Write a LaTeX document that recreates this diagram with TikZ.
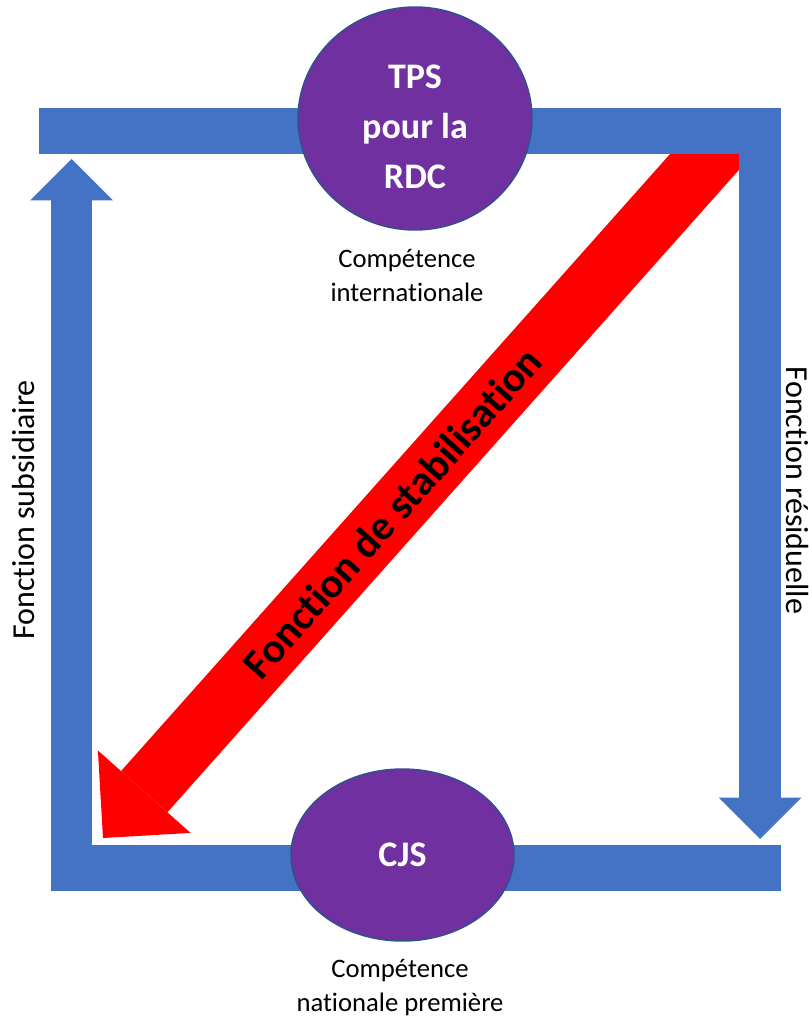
\documentclass[tikz,border=0pt]{standalone}
\usepackage{fontspec}
\setmainfont{Carlito}[Ligatures=NoCommon]
\usepackage{tikz}
\usetikzlibrary{arrows.meta,shapes.geometric}
\definecolor{barblue}{HTML}{4472C4}
\definecolor{discpurple}{HTML}{7030A0}
\definecolor{discedge}{HTML}{2F528F}
\definecolor{stabred}{HTML}{FF0000}

\begin{document}
\begin{tikzpicture}[x=0.75pt,y=-0.75pt,
    bar/.style={barblue,line width=34.5pt},
    flow/.style={barblue,line width=31pt,-{Triangle[length=31pt,width=62pt,line width=0pt]}},
    stab/.style={stabred,line width=46.5pt,-{Triangle[length=46.5pt,width=93pt,line width=0pt]}},
    disc/.style={ellipse,fill=discpurple,draw=discedge,line width=1.1pt,inner sep=0pt,text=white,font=\fontsize{27pt}{37.5pt}\selectfont\bfseries,align=center},
    caption/.style={align=center,font=\fontsize{20pt}{25.5pt}\selectfont},
    side/.style={font=\fontsize{24pt}{29pt}\selectfont}]
          \useasboundingbox (0,0) rectangle (808,1020);
          \coordinate (stabtail) at (732,131);
          \coordinate (stabtip) at (103,838);
          \draw[stab] (stabtail) -- (stabtip) node[pos=0.54,sloped,text=black,font=\fontsize{31.5pt}{36pt}\selectfont\bfseries] (stablabel) {Fonction de stabilisation};
          \coordinate (topleft) at (39,131);
          \coordinate (topright) at (781,131);
          \coordinate (botleft) at (52,868);
          \coordinate (botright) at (781,868);
          \coordinate (resstart) at (760,108);
          \coordinate (resend) at (760,839);
          \coordinate (substart) at (71.5,891);
          \coordinate (subend) at (71.5,159);
          \draw[bar] (topleft) -- (topright);
          \draw[bar] (botleft) -- (botright);
          \draw[flow] (resstart) -- (resend);
          \draw[flow] (substart) -- (subend);
          \node[disc,minimum width=175.5pt,minimum height=167.25pt] (tps) at (415,118.5) {};
          \node[text=white,align=center,font=\fontsize{27pt}{37.5pt}\selectfont\bfseries] (tpsname) at (415,126.5) {TPS\\pour la\\RDC};
          \node[disc,minimum width=167.25pt,minimum height=129pt] (cjs) at (402.5,855) {CJS};
          \node[caption] (tpscap) at (407,275) {Compétence\\internationale};
          \node[caption] (cjscap) at (400,988) {Compétence\\nationale première};
          \node[side,rotate=90] (subsid) at (24,510) {Fonction subsidiaire};
          \node[side,rotate=-90] (resid) at (797,490.5) {Fonction résiduelle};
        \end{tikzpicture}
\end{document}
